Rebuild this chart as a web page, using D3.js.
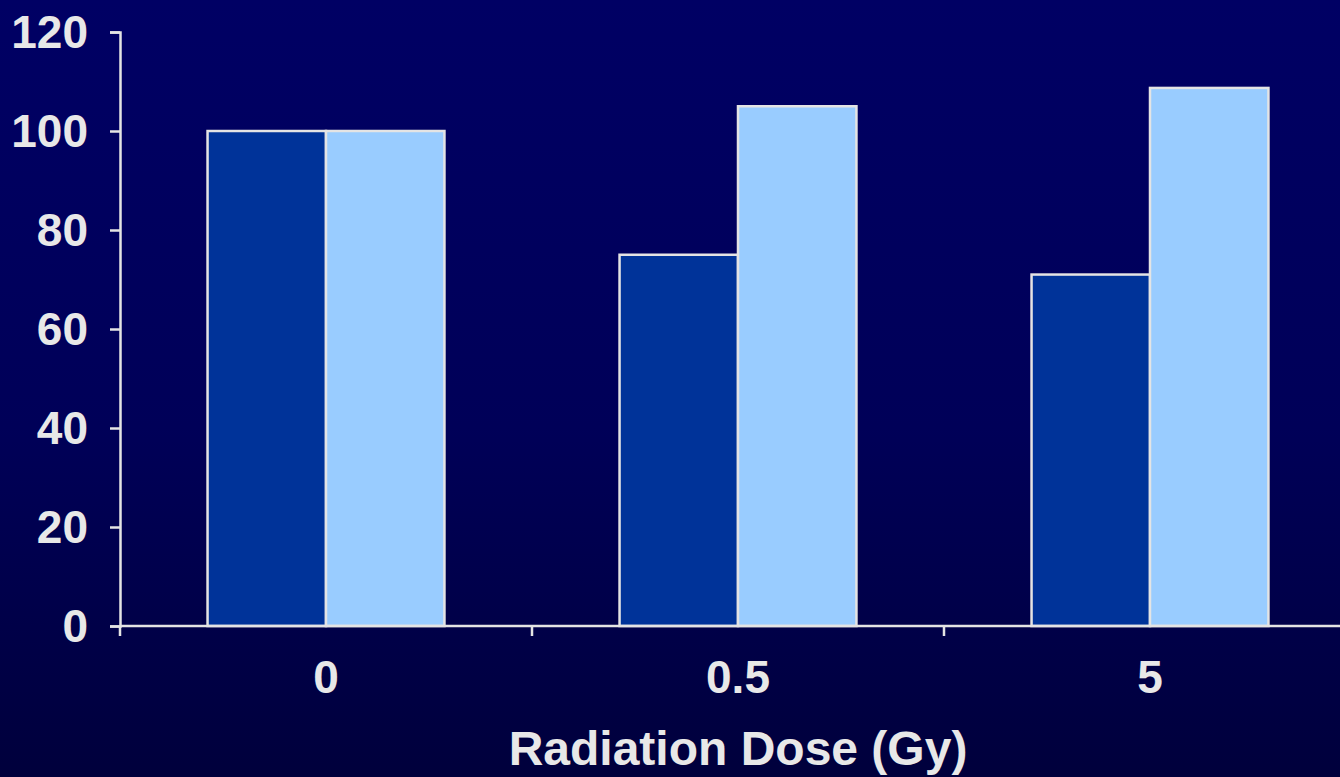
<!DOCTYPE html>
<html>
<head>
<meta charset="utf-8">
<script src="https://cdn.jsdelivr.net/npm/d3@7/dist/d3.min.js"></script>
<style>
  html, body { margin: 0; padding: 0; background: #000050; }
  svg { display: block; }
</style>
</head>
<body>
<svg id="chart" width="1340" height="777"></svg>
<script>
// Radiation dose groups and the two series (relative values, %)
const doses = ["0", "0.5", "5"];
const seriesA = [100, 75, 71];
const seriesB = [100, 105, 108.7];
const yTicks = [0, 20, 40, 60, 80, 100, 120];
const xTitle = "Radiation Dose (Gy)";

const W = 1340, H = 777;
const margin = { left: 120, top: 32, bottom: 151 };
const plotBottom = H - margin.bottom; // 626
const bandStep = 412;

const svg = d3.select("#chart");

// Slide-style background gradient
const defs = svg.append("defs");
const grad = defs.append("linearGradient")
  .attr("id", "bg").attr("x1", 0).attr("y1", 0).attr("x2", 0).attr("y2", 1);
grad.append("stop").attr("offset", "0%").attr("stop-color", "#000064");
grad.append("stop").attr("offset", "55%").attr("stop-color", "#000058");
grad.append("stop").attr("offset", "100%").attr("stop-color", "#00003c");
svg.append("rect").attr("width", W).attr("height", H).attr("fill", "url(#bg)");

const x = d3.scaleBand()
  .domain(doses)
  .range([margin.left, margin.left + bandStep * doses.length])
  .paddingInner(0.425)
  .paddingOuter(0.2125);

const inner = d3.scaleBand()
  .domain(["a", "b"])
  .range([0, x.bandwidth()]);

const y = d3.scaleLinear().domain([0, 120]).range([plotBottom, margin.top]);

const textColor = "#e8e8e8";
const lineColor = "#e4e4e4";
const font = "'Liberation Sans', Arial, sans-serif";

// Bars
const groups = svg.append("g").selectAll("g")
  .data(doses.map((d, i) => ({ dose: d, a: seriesA[i], b: seriesB[i] })))
  .join("g")
  .attr("transform", d => `translate(${x(d.dose)},0)`);

groups.selectAll("rect")
  .data(d => [{ k: "a", v: d.a }, { k: "b", v: d.b }])
  .join("rect")
  .attr("x", d => inner(d.k))
  .attr("width", inner.bandwidth())
  .attr("y", d => y(d.v))
  .attr("height", d => y(0) - y(d.v))
  .attr("fill", d => d.k === "a" ? "#003399" : "#99ccff")
  .attr("stroke", lineColor)
  .attr("stroke-width", 2.5);

// Y axis
const yAxis = svg.append("g")
  .attr("transform", `translate(${margin.left},0)`)
  .call(d3.axisLeft(y).tickValues(yTicks).tickSize(10).tickPadding(22));
yAxis.select(".domain").attr("stroke", lineColor).attr("stroke-width", 2.5);
yAxis.selectAll(".tick line").attr("stroke", lineColor).attr("stroke-width", 2.5);
yAxis.selectAll(".tick text")
  .attr("fill", textColor)
  .style("font-family", font)
  .style("font-size", "46px")
  .style("font-weight", "bold")
  .attr("dy", "0.34em");

// X axis with ticks on band boundaries
const xBoundaries = d3.range(doses.length + 1).map(i => margin.left + i * bandStep);
const xAxisG = svg.append("g");
xAxisG.append("line")
  .attr("x1", margin.left).attr("x2", W)
  .attr("y1", y(0)).attr("y2", y(0))
  .attr("stroke", lineColor).attr("stroke-width", 2.5);
xAxisG.selectAll("line.tick")
  .data(xBoundaries)
  .join("line")
  .attr("class", "tick")
  .attr("x1", d => d).attr("x2", d => d)
  .attr("y1", y(0)).attr("y2", y(0) + 10)
  .attr("stroke", lineColor).attr("stroke-width", 2.5);

xAxisG.selectAll("text")
  .data(doses)
  .join("text")
  .attr("x", d => x(d) + x.bandwidth() / 2)
  .attr("y", 693)
  .attr("text-anchor", "middle")
  .attr("fill", textColor)
  .style("font-family", font)
  .style("font-size", "46px")
  .style("font-weight", "bold")
  .text(d => d);

// X axis title
svg.append("text")
  .attr("x", x(doses[1]) + x.bandwidth() / 2)
  .attr("y", 765)
  .attr("text-anchor", "middle")
  .attr("fill", textColor)
  .style("font-family", font)
  .style("font-size", "48px")
  .style("font-weight", "bold")
  .text(xTitle);
</script>
</body>
</html>
